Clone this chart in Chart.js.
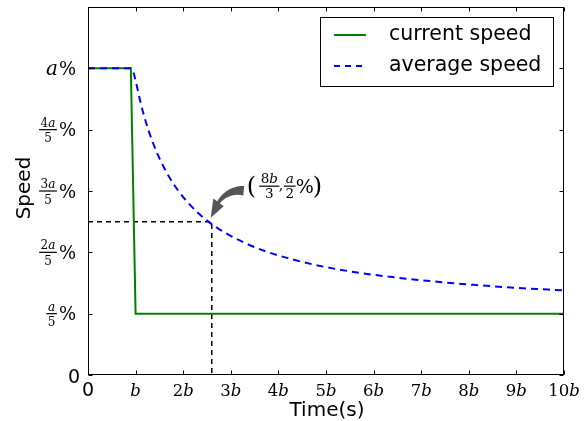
<!DOCTYPE html>
<html>
<head>
<meta charset="utf-8">
<script src="https://cdn.jsdelivr.net/npm/chart.js@4.4.1/dist/chart.umd.min.js"></script>
<style>
  html, body { margin: 0; padding: 0; background: #fff; }
  canvas { display: block; }
</style>
</head>
<body>
<canvas id="chart" width="587" height="421"></canvas>
<script>
// time in units of b, speed in percent of a
const currentTime = [0, 0.9, 1.0, 10];
const currentSpeed = [100, 100, 20, 20];

const averageTime = [0, 0.9, 0.95, 1.0, 1.1, 1.2, 1.35, 1.5, 1.7, 1.9, 2.1, 2.35, 2.6, 2.9, 3.25, 3.7, 4.2, 4.8, 5.5, 6.3, 7.2, 8.1, 9.0, 10];
const averageSpeed = [100, 100, 98.9, 96, 89.1, 83.3, 76.3, 70.7, 64.7, 60, 56.2, 52.3, 49.2, 46.2, 43.4, 40.5, 38.1, 35.8, 33.8, 32.1, 30.6, 29.4, 28.4, 27.6];

// the marked point where the average falls to half
const markTime = 2.6;
const markSpeed = 50;

const xTickValues = [0, 1, 2, 3, 4, 5, 6, 7, 8, 9, 10];
const xTickLabels = ['0', 'b', '2b', '3b', '4b', '5b', '6b', '7b', '8b', '9b', '10b'];
const yTickValues = [0, 20, 40, 60, 80, 100];
const yTickNumerators = ['0', 'a', '2a', '3a', '4a', 'a%'];

const seriesNames = ['current speed', 'average speed'];

const GREEN = '#008000';
const BLUE = '#0000ff';
const MATH = '"DejaVu Serif"';
const SANS = '"DejaVu Sans"';

function toPoints(xs, ys) {
  return xs.map((x, i) => ({x: x, y: ys[i]}));
}

// digits upright, letters italic, like TeX math
function mathRuns(str) {
  let runs = [];
  for (let ch of str) {
    let italic = /[a-z]/.test(ch);
    if (runs.length && runs[runs.length-1].italic === italic)
      runs[runs.length-1].text += ch;
    else
      runs.push({text: ch, italic: italic});
  }
  return runs;
}

function mathWidth(ctx, str, size) {
  let w = 0;
  for (let r of mathRuns(str)) {
    ctx.font = `${r.italic ? 'italic ' : ''}${size}px ${MATH}`;
    w += ctx.measureText(r.text).width;
  }
  return w;
}

// draw math text, align = 'left' | 'center' | 'right'
function drawMath(ctx, str, x, y, size, align) {
  let w = mathWidth(ctx, str, size);
  let cx = align === 'center' ? x - w/2 : (align === 'right' ? x - w : x);
  ctx.textAlign = 'left';
  ctx.textBaseline = 'alphabetic';
  for (let r of mathRuns(str)) {
    ctx.font = `${r.italic ? 'italic ' : ''}${size}px ${MATH}`;
    ctx.fillText(r.text, cx, y);
    cx += ctx.measureText(r.text).width;
  }
  return w;
}

function drawFrac(ctx, num, den, cx, cy, size, numGap, denGap) {
  let w = Math.max(mathWidth(ctx, num, size), mathWidth(ctx, den, size)) + 3;
  drawMath(ctx, num, cx, cy - numGap, size, 'center');
  drawMath(ctx, den, cx, cy + denGap, size, 'center');
  ctx.fillRect(cx - w/2, cy - 0.6, w, 1.2);
  return w;
}

function fancyArrow(ctx, p0, c, p2) {
  const at = s => ({
    x: (1-s)*(1-s)*p0.x + 2*s*(1-s)*c.x + s*s*p2.x,
    y: (1-s)*(1-s)*p0.y + 2*s*(1-s)*c.y + s*s*p2.y
  });
  const normal = s => {
    let tx = 2*(1-s)*(c.x-p0.x) + 2*s*(p2.x-c.x);
    let ty = 2*(1-s)*(c.y-p0.y) + 2*s*(p2.y-c.y);
    let len = Math.hypot(tx, ty);
    return {x: -ty/len, y: tx/len};
  };
  const neck = 0.68;
  let left = [], right = [];
  for (let i=0; i<=20; ++i) {
    let s = neck * i / 20;
    let p = at(s), n = normal(s);
    let hw = 4.8 - 3.2 * (s / neck);
    left.push({x: p.x + n.x*hw, y: p.y + n.y*hw});
    right.push({x: p.x - n.x*hw, y: p.y - n.y*hw});
  }
  let pn = at(neck), nn = normal(neck);
  ctx.beginPath();
  ctx.moveTo(left[0].x, left[0].y);
  for (let p of left) ctx.lineTo(p.x, p.y);
  ctx.lineTo(pn.x + nn.x*6.5, pn.y + nn.y*6.5);
  ctx.lineTo(p2.x, p2.y);
  ctx.lineTo(pn.x - nn.x*6.5, pn.y - nn.y*6.5);
  for (let i=right.length-1; i>=0; --i) ctx.lineTo(right[i].x, right[i].y);
  ctx.closePath();
  ctx.fill();
}

const speedDecor = {
  id: 'speedDecor',
  afterDraw(chart) {
    const ctx = chart.ctx;
    const ca = chart.chartArea;
    const xs = chart.scales.x, ys = chart.scales.y;
    const L = Math.round(ca.left) + 0.5, R = Math.round(ca.right) - 0.5;
    const T = Math.round(ca.top) + 0.5, B = Math.round(ca.bottom) - 0.5;

    ctx.save();
    ctx.strokeStyle = '#000';
    ctx.fillStyle = '#000';
    ctx.lineWidth = 1;

    // frame and inward ticks
    ctx.strokeRect(L, T, R - L, B - T);
    ctx.beginPath();
    for (let v of xTickValues) {
      let px = Math.round(xs.getPixelForValue(v)) + 0.5;
      ctx.moveTo(px, B); ctx.lineTo(px, B - 4);
      ctx.moveTo(px, T); ctx.lineTo(px, T + 4);
    }
    for (let v of yTickValues) {
      let py = Math.round(ys.getPixelForValue(v)) + 0.5;
      ctx.moveTo(L, py); ctx.lineTo(L + 4, py);
      ctx.moveTo(R, py); ctx.lineTo(R - 4, py);
    }
    ctx.stroke();

    // x tick labels
    xTickValues.forEach((v, i) => {
      let px = xs.getPixelForValue(v);
      if (xTickLabels[i] === '0') {
        ctx.font = `19px ${SANS}`;
        ctx.textAlign = 'center';
        ctx.textBaseline = 'alphabetic';
        ctx.fillText('0', px, 395.5);
      } else {
        drawMath(ctx, xTickLabels[i], px, 395.5, 16.5, 'center');
      }
    });

    // y tick labels
    yTickValues.forEach((v, i) => {
      let py = ys.getPixelForValue(v);
      let num = yTickNumerators[i];
      if (num === '0') {
        ctx.font = `19px ${SANS}`;
        ctx.textAlign = 'right';
        ctx.textBaseline = 'alphabetic';
        ctx.fillText('0', 80, py + 7.5);
      } else if (num === 'a%') {
        ctx.font = `18px ${MATH}`;
        ctx.textAlign = 'right';
        ctx.textBaseline = 'alphabetic';
        ctx.fillText('%', 76, py + 6.5);
        let pw = ctx.measureText('%').width;
        drawMath(ctx, 'a', 76 - pw - 1, py + 6.5, 20, 'right');
      } else {
        ctx.font = `18px ${MATH}`;
        ctx.textAlign = 'right';
        ctx.textBaseline = 'alphabetic';
        ctx.fillText('%', 76, py + 6.5);
        let pw = ctx.measureText('%').width;
        let fw = Math.max(mathWidth(ctx, num, 12), mathWidth(ctx, '5', 12)) + 3;
        drawFrac(ctx, num, '5', 76 - pw - 2 - fw/2, py, 12, 3, 12.5);
      }
    });

    // axis titles
    ctx.font = `20px ${SANS}`;
    ctx.textAlign = 'center';
    ctx.textBaseline = 'alphabetic';
    ctx.fillText('Time(s)', (ca.left + ca.right) / 2 + 1, 416);
    ctx.save();
    ctx.translate(29.5, (ca.top + ca.bottom) / 2 - 3);
    ctx.rotate(-Math.PI / 2);
    ctx.fillText('Speed', 0, 0);
    ctx.restore();

    // annotation of the half-speed point
    let pt = {x: xs.getPixelForValue(markTime), y: ys.getPixelForValue(markSpeed)};
    ctx.fillStyle = '#555';
    fancyArrow(ctx,
      {x: pt.x + 32, y: pt.y - 31},
      {x: pt.x + 9, y: pt.y - 33},
      {x: pt.x - 1, y: pt.y - 4});

    ctx.fillStyle = '#000';
    let x0 = pt.x + 35, cy = pt.y - 35.5;
    ctx.font = `24px ${MATH}`;
    ctx.textAlign = 'left';
    ctx.textBaseline = 'alphabetic';
    ctx.fillText('(', x0, cy + 8);
    drawFrac(ctx, '8b', '3', x0 + 22.5, cy, 13.5, 3, 12);
    ctx.font = `14px ${MATH}`;
    ctx.fillText(',', x0 + 32, cy + 4);
    drawFrac(ctx, 'a', '2', x0 + 43, cy, 13.5, 3, 12);
    ctx.font = `19px ${MATH}`;
    ctx.fillText('%', x0 + 49, cy + 7);
    ctx.font = `24px ${MATH}`;
    ctx.fillText(')', x0 + 66, cy + 8);

    // legend
    const lx = 320.5, ly = 17.5, lw = 233, lh = 69;
    ctx.fillStyle = '#fff';
    ctx.fillRect(lx, ly, lw, lh);
    ctx.strokeStyle = '#000';
    ctx.lineWidth = 1;
    ctx.strokeRect(lx, ly, lw, lh);
    const rows = [
      {y: 35, color: GREEN, dash: []},
      {y: 66, color: BLUE, dash: [6, 5]}
    ];
    rows.forEach((row, i) => {
      ctx.strokeStyle = row.color;
      ctx.lineWidth = 2;
      ctx.setLineDash(row.dash);
      ctx.beginPath();
      ctx.moveTo(334, row.y);
      ctx.lineTo(366, row.y);
      ctx.stroke();
      ctx.setLineDash([]);
      ctx.fillStyle = '#000';
      ctx.font = `20.5px ${SANS}`;
      ctx.textAlign = 'left';
      ctx.textBaseline = 'middle';
      ctx.fillText(seriesNames[i], 389, row.y);
    });

    ctx.restore();
  }
};

new Chart(document.getElementById('chart'), {
  type: 'scatter',
  data: {
    datasets: [
      {
        label: seriesNames[0],
        data: toPoints(currentTime, currentSpeed),
        showLine: true,
        borderColor: GREEN,
        borderWidth: 2,
        pointRadius: 0,
        tension: 0,
        order: 1
      },
      {
        label: seriesNames[1],
        data: toPoints(averageTime, averageSpeed),
        showLine: true,
        borderColor: BLUE,
        borderWidth: 2,
        borderDash: [7, 5],
        pointRadius: 0,
        cubicInterpolationMode: 'monotone',
        order: 0
      },
      {
        label: 'mark',
        data: [{x: 0, y: markSpeed}, {x: markTime, y: markSpeed}, {x: markTime, y: 0}],
        showLine: true,
        borderColor: '#000',
        borderWidth: 1.5,
        borderDash: [5, 4],
        pointRadius: 0,
        tension: 0,
        order: 2
      }
    ]
  },
  options: {
    responsive: false,
    animation: false,
    layout: { padding: {left: 88, right: 23, top: 7, bottom: 46} },
    scales: {
      x: { type: 'linear', min: 0, max: 10, display: false },
      y: { type: 'linear', min: 0, max: 120, display: false }
    },
    plugins: {
      legend: { display: false },
      tooltip: { enabled: false }
    }
  },
  plugins: [speedDecor]
});
</script>
</body>
</html>
